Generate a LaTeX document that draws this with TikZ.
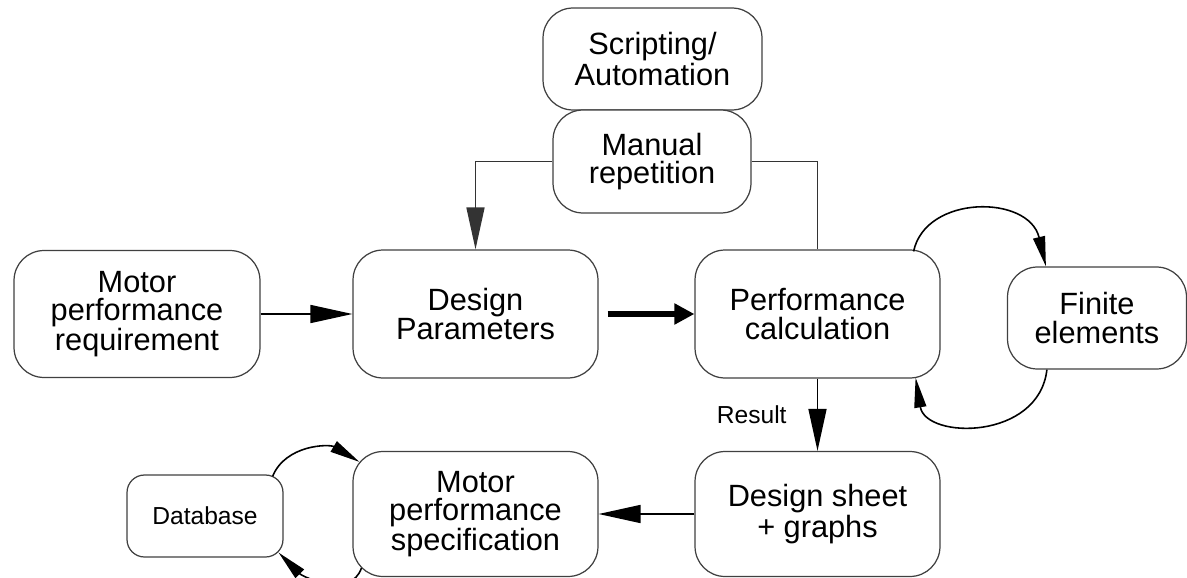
\documentclass[tikz,border=0pt]{standalone}
\usepackage{fontspec}
\setmainfont{Liberation Sans}
\usetikzlibrary{arrows.meta,positioning,calc}

\begin{document}
\begin{tikzpicture}[
  x=0.02cm, y=-0.02cm,
  font=\fontsize{17.5}{16}\selectfont,
  n/.style={draw=black!75, line width=0.7pt, rounded corners=0.6cm,
            align=center, inner sep=2pt, fill=white,
            minimum width=4.9cm, minimum height=2.56cm},
  sm/.style={n, rounded corners=0.35cm, font=\fontsize{14}{14}\selectfont,
             minimum width=3.12cm, minimum height=1.64cm},
  e/.style={-{Triangle[length=8.4mm, width=3.6mm]}, line width=0.9pt},
  eb/.style={-{Triangle[length=4mm, width=4mm]}, line width=3.4pt},
  lp/.style={-{Triangle[length=6mm, width=2.4mm]}, line width=0.9pt},
  ln/.style={line width=0.7pt, draw=black!80},
  lbl/.style={font=\fontsize{14}{14}\selectfont, inner sep=1.5pt}]

% pixel grid of the page: 1187 x 578, y runs downwards
\useasboundingbox (0,0) rectangle (1187,578);
\clip (0,0) rectangle (1187,578);

\node[n, minimum width=4.38cm, minimum height=2.04cm] (scr) at (652.5,59)
      {Scripting/\\Automation};
\node[n, minimum width=3.96cm, minimum height=2.06cm] (man) at (652,161.5)
      {Manual\\repetition};

\node[n, minimum width=4.92cm, minimum height=2.54cm] (req) at (137,314)
      {Motor\\performance\\requirement};
\node[n] (par) at (475.5,314) {Design\\Parameters};
\node[n] (prf) at (817.5,314) {Performance\\calculation};
\node[n, minimum width=3.58cm, minimum height=2.04cm] (fem) at (1097,318)
      {Finite\\elements};

\node[sm] (db) at (205,516) {Database};
\node[n, minimum height=2.5cm] (spc) at (475.5,514)
      {Motor\\performance\\specification};
\node[n, minimum height=2.5cm] (sht) at (817.5,514)
      {Design sheet\\+ graphs};

\draw[ln, e] (man.west) -| (par.north);
\draw[ln] (man.east) -| (prf.north);
\draw[e] (req.east) -- (par.west);
\draw[eb, shorten <=1.8mm] (par.east) -- (prf.west);
\draw[e] (prf.south) -- node[lbl, left=0.55cm] {Result} (sht.north);
\draw[e] (sht.west) -- (spc.east);

% --------------------------------------------------------------- loops ---
\draw[lp] ($(prf.north east)+(-27,2)$) .. controls +(12,-57) and +(-17,-72)
      .. ($(fem.north west)+(39,0)$);
\draw[lp] ($(fem.south west)+(40,0)$) .. controls +(-8,71) and +(10,62)
      .. ($(prf.south east)+(-25,-1)$);
\draw[lp] ($(db.north east)+(-11,2)$) .. controls +(13,-32) and +(-30,-18)
      .. ($(spc.north west)+(7,11)$);
\draw[lp] ($(spc.south west)+(9,-9)$) .. controls +(-10,30) and +(25,25)
      .. ($(db.south east)+(-5,-5)$);

\end{tikzpicture}
\end{document}
